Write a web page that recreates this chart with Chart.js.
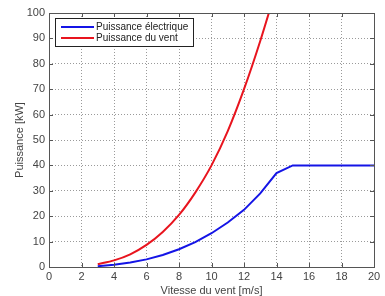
<!DOCTYPE html>
<html>
<head>
<meta charset="utf-8">
<script src="https://cdn.jsdelivr.net/npm/chart.js@4.4.1/dist/chart.umd.min.js"></script>
<style>
  html, body { margin: 0; padding: 0; background: #fff; overflow: hidden; }
  canvas { display: block; }
</style>
</head>
<body>
<canvas id="powerChart" width="385" height="296"></canvas>
<script>
// wind speed (m/s) and power (kW)
let electricSpeeds = [3, 4, 5, 6, 7, 8, 9, 10, 11, 12, 13, 14, 15, 16, 17, 18, 19, 20];
let electricPower  = [0.3, 0.9, 1.8, 3.0, 4.7, 7.0, 9.8, 13.3, 17.5, 22.5, 29, 37, 40, 40, 40, 40, 40, 40];

let windSpeeds = [3, 4, 5, 6, 7, 8, 9, 10, 11, 12, 13, 14];
let windPower  = [1.1, 2.6, 5.0, 8.7, 13.8, 20.5, 29.3, 40, 53.5, 70, 89, 110];

let xTicks = [0, 2, 4, 6, 8, 10, 12, 14, 16, 18, 20];
let yTicks = [0, 10, 20, 30, 40, 50, 60, 70, 80, 90, 100];

function toPoints(xs, ys) {
    let pts = [];
    for(let i=0; i<xs.length; i++) {
        pts.push({x: xs[i], y: ys[i]});
    }
    return pts;
}

// matlab style box, inner tick marks and boxed legend
const matlabFrame = {
    id: 'matlabFrame',
    afterDraw(chart) {
        let ctx = chart.ctx;
        let area = chart.chartArea;
        let xs = chart.scales.x, ys = chart.scales.y;
        ctx.save();
        ctx.strokeStyle = '#555';
        ctx.lineWidth = 1;
        ctx.strokeRect(Math.round(area.left) + 0.5, Math.round(area.top) + 0.5,
            Math.round(area.right - area.left), Math.round(area.bottom - area.top));

        ctx.beginPath();
        xTicks.forEach(v => {
            let px = Math.round(xs.getPixelForValue(v)) + 0.5;
            ctx.moveTo(px, area.bottom); ctx.lineTo(px, area.bottom - 4);
            ctx.moveTo(px, area.top); ctx.lineTo(px, area.top + 4);
        });
        yTicks.forEach(v => {
            let py = Math.round(ys.getPixelForValue(v)) + 0.5;
            ctx.moveTo(area.left, py); ctx.lineTo(area.left + 4, py);
            ctx.moveTo(area.right, py); ctx.lineTo(area.right - 4, py);
        });
        ctx.stroke();

        // legend
        let lx = area.left + 6, ly = area.top + 5, lw = 138, lh = 28;
        ctx.fillStyle = '#fff';
        ctx.fillRect(lx, ly, lw, lh);
        ctx.strokeStyle = '#222';
        ctx.strokeRect(lx + 0.5, ly + 0.5, lw, lh);
        ctx.font = '10px "Liberation Sans", Arial, sans-serif';
        ctx.textBaseline = 'middle';
        chart.data.datasets.forEach((ds, i) => {
            let y = ly + 9 + i * 11;
            ctx.strokeStyle = ds.borderColor;
            ctx.lineWidth = 2;
            ctx.beginPath();
            ctx.moveTo(lx + 6, y); ctx.lineTo(lx + 39, y);
            ctx.stroke();
            ctx.fillStyle = '#222';
            ctx.fillText(ds.label, lx + 41, y);
        });
        ctx.restore();
    }
};

let ctx = document.getElementById('powerChart').getContext('2d');
let chart = new Chart(ctx, {
    type: 'line',
    data: {
        datasets: [{
            label: 'Puissance électrique',
            data: toPoints(electricSpeeds, electricPower),
            borderColor: 'rgb(20, 20, 230)',
            borderWidth: 2,
            pointRadius: 0,
            tension: 0,
            clip: 0
        }, {
            label: 'Puissance du vent',
            data: toPoints(windSpeeds, windPower),
            borderColor: 'rgb(232, 20, 30)',
            borderWidth: 2,
            pointRadius: 0,
            tension: 0.3,
            clip: 0
        }]
    },
    options: {
        responsive: false,
        animation: false,
        events: [],
        layout: {
            padding: { left: 0, right: 11, top: 13, bottom: 0 }
        },
        plugins: {
            legend: { display: false },
            tooltip: { enabled: false }
        },
        scales: {
            x: {
                type: 'linear',
                min: 0,
                max: 20,
                afterFit: scale => { scale.height = 29; },
                afterBuildTicks: scale => { scale.ticks = xTicks.map(v => ({value: v})); },
                ticks: {
                    padding: 3,
                    color: '#444',
                    font: { family: '"Liberation Sans", Arial, sans-serif', size: 11 }
                },
                grid: { color: '#9a9a9a', drawTicks: false },
                border: { display: false, dash: [1, 2] },
                title: {
                    display: true,
                    text: 'Vitesse du vent [m/s]',
                    color: '#444',
                    padding: { top: 0, bottom: -2 },
                    font: { family: '"Liberation Sans", Arial, sans-serif', size: 11 }
                }
            },
            y: {
                min: 0,
                max: 100,
                afterFit: scale => { scale.width = 49; },
                afterBuildTicks: scale => { scale.ticks = yTicks.map(v => ({value: v})); },
                ticks: {
                    padding: 4,
                    color: '#444',
                    font: { family: '"Liberation Sans", Arial, sans-serif', size: 11 }
                },
                grid: { color: '#9a9a9a', drawTicks: false },
                border: { display: false, dash: [1, 2] },
                title: {
                    display: true,
                    text: 'Puissance [kW]',
                    color: '#444',
                    padding: { top: 13, bottom: 0 },
                    font: { family: '"Liberation Sans", Arial, sans-serif', size: 11 }
                }
            }
        }
    },
    plugins: [matlabFrame]
});
</script>
</body>
</html>
